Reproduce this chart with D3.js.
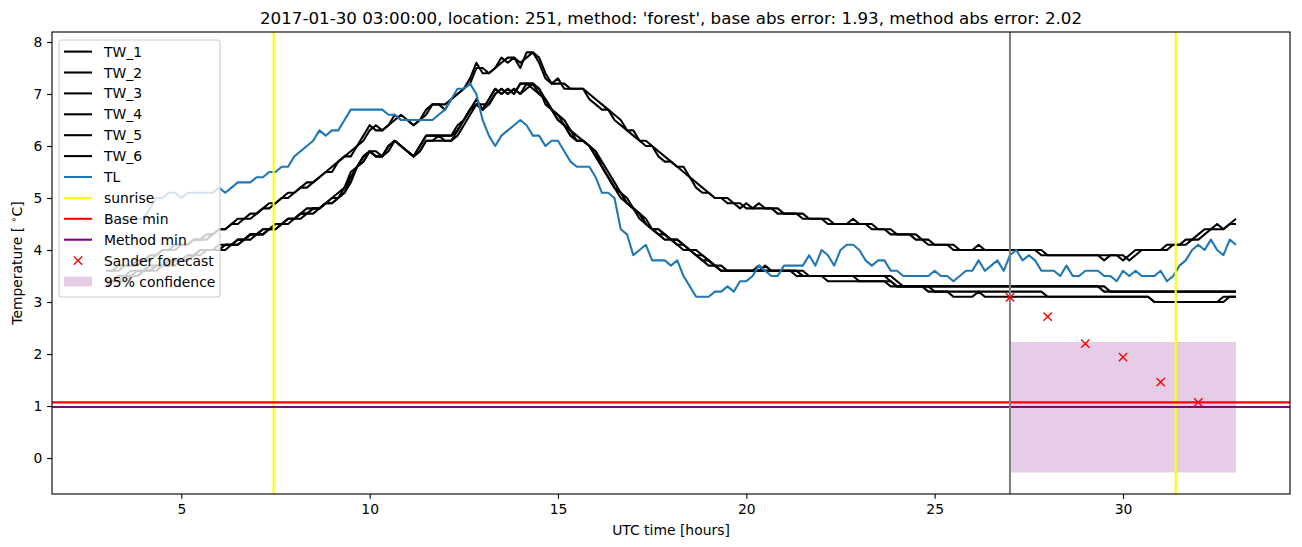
<!DOCTYPE html>
<html>
<head>
<meta charset="utf-8">
<script src="https://cdn.jsdelivr.net/npm/d3@7"></script>
<style>
  body { margin: 0; background: #fff; }
  text { font-family: "DejaVu Sans", sans-serif; }
</style>
</head>
<body>
<div class="TempPlot"></div>
<script>
// samples every 10 minutes, time in hours since 2017-01-30 00:00
const tStart = 3
const tStep = 1 / 6

const TW_1 = [3.6,3.6,3.6,3.7,3.7,3.7,3.8,3.8,3.9,4.0, 4.0,4.0,4.1,4.1,4.2,4.2,4.2,4.3,4.4,4.4,
  4.5,4.6,4.6,4.7,4.7,4.8,4.9,4.9,5.0,5.1, 5.1,5.2,5.3,5.3,5.4,5.5,5.6,5.7,5.8,5.9,
  6.0,6.2,6.4,6.3,6.3,6.4,6.6,6.5,6.5,6.4, 6.5,6.7,6.8,6.8,6.7,6.9,7.0,7.1,7.3,7.6,
  7.4,7.4,7.5,7.7,7.6,7.7,7.5,7.8,7.8,7.6, 7.3,7.2,7.3,7.1,7.1,7.1,7.1,6.9,6.8,6.7,
  6.7,6.5,6.4,6.3,6.2,6.1,6.0,6.0,5.8,5.7, 5.7,5.6,5.5,5.4,5.2,5.1,5.1,5.0,5.0,4.9,
  4.9,4.8,4.9,4.8,4.8,4.8,4.8,4.7,4.7,4.7, 4.7,4.6,4.6,4.6,4.6,4.5,4.5,4.5,4.5,4.6,
  4.5,4.5,4.4,4.4,4.4,4.3,4.3,4.3,4.3,4.2, 4.2,4.1,4.1,4.1,4.1,4.0,4.0,4.0,4.0,4.1,
  4.0,4.0,4.0,4.0,4.0,4.0,4.0,4.0,4.0,3.9, 3.9,3.9,3.9,3.9,3.9,3.9,3.9,3.9,3.9,3.8,
  3.9,3.9,3.8,3.9,4.0,4.0,4.0,4.0,4.0,4.1, 4.1,4.1,4.2,4.2,4.3,4.4,4.4,4.5,4.4,4.5,4.6]
const TW_2 = [3.6,3.6,3.7,3.7,3.7,3.8,3.8,3.9,3.9,4.0, 4.0,4.1,4.1,4.1,4.2,4.2,4.3,4.3,4.4,4.4,
  4.5,4.5,4.6,4.6,4.7,4.8,4.8,4.9,5.0,5.0, 5.1,5.2,5.2,5.3,5.4,5.5,5.5,5.7,5.8,5.8,
  6.0,6.1,6.3,6.4,6.3,6.4,6.5,6.6,6.5,6.4, 6.5,6.6,6.8,6.8,6.8,6.9,7.0,7.1,7.2,7.5,
  7.5,7.4,7.5,7.6,7.7,7.7,7.6,7.7,7.8,7.7, 7.4,7.2,7.2,7.2,7.1,7.1,7.1,7.0,6.9,6.8,
  6.7,6.6,6.5,6.3,6.3,6.1,6.1,6.0,5.9,5.8, 5.7,5.6,5.6,5.4,5.3,5.2,5.1,5.0,5.0,5.0,
  4.9,4.9,4.8,4.8,4.9,4.8,4.8,4.8,4.7,4.7, 4.7,4.7,4.6,4.6,4.6,4.6,4.5,4.5,4.5,4.5,
  4.5,4.5,4.5,4.4,4.4,4.4,4.3,4.3,4.3,4.3, 4.2,4.2,4.1,4.1,4.1,4.1,4.0,4.0,4.0,4.0,
  4.0,4.0,4.0,4.0,4.0,4.0,4.0,4.0,4.0,4.0, 3.9,3.9,3.9,3.9,3.9,3.9,3.9,3.9,3.9,3.9,
  3.9,3.9,3.9,3.8,3.9,4.0,4.0,4.0,4.0,4.0, 4.1,4.1,4.1,4.2,4.2,4.3,4.4,4.4,4.4,4.5,4.5]
const TW_3 = [3.4,3.4,3.5,3.5,3.5,3.6,3.6,3.6,3.7,3.7, 3.7,3.8,3.8,3.8,3.9,4.0,4.0,4.0,4.0,4.1,
  4.1,4.2,4.2,4.3,4.3,4.4,4.4,4.4,4.5,4.6, 4.6,4.7,4.7,4.8,4.8,4.9,5.0,5.0,5.2,5.4,
  5.6,5.8,5.9,5.8,5.8,6.0,6.1,6.0,5.9,5.8, 6.0,6.2,6.2,6.2,6.2,6.2,6.3,6.5,6.7,6.8,
  6.7,6.9,7.1,7.0,7.1,7.0,7.2,7.2,7.1,7.0, 6.9,6.7,6.6,6.4,6.2,6.1,6.1,6.0,5.9,5.6,
  5.4,5.2,5.1,4.9,4.8,4.7,4.5,4.4,4.3,4.3, 4.2,4.1,4.1,4.0,3.9,3.8,3.8,3.7,3.6,3.6,
  3.6,3.6,3.6,3.6,3.7,3.6,3.6,3.6,3.6,3.6, 3.6,3.5,3.5,3.5,3.5,3.5,3.5,3.5,3.5,3.5,
  3.5,3.5,3.5,3.5,3.5,3.4,3.3,3.3,3.3,3.3, 3.3,3.3,3.3,3.3,3.3,3.3,3.3,3.3,3.3,3.3,
  3.3,3.3,3.3,3.3,3.3,3.3,3.3,3.3,3.3,3.3, 3.3,3.3,3.3,3.3,3.3,3.3,3.3,3.3,3.3,3.3,
  3.2,3.2,3.2,3.2,3.2,3.2,3.2,3.2,3.2,3.2, 3.2,3.2,3.2,3.2,3.2,3.2,3.2,3.2,3.2,3.2,3.2]
const TW_4 = [3.4,3.4,3.4,3.5,3.5,3.5,3.6,3.6,3.7,3.7, 3.7,3.7,3.8,3.8,3.9,3.9,4.0,4.0,4.0,4.0,
  4.1,4.1,4.2,4.2,4.3,4.3,4.4,4.4,4.5,4.5, 4.6,4.6,4.7,4.7,4.8,4.9,4.9,5.0,5.1,5.4,
  5.6,5.7,5.9,5.8,5.8,5.9,6.1,6.0,5.9,5.8, 5.9,6.1,6.1,6.1,6.1,6.1,6.2,6.4,6.6,6.8,
  6.8,6.8,7.0,7.1,7.0,7.1,7.0,7.2,7.2,7.1, 6.9,6.7,6.6,6.5,6.3,6.1,6.1,6.0,5.9,5.7,
  5.5,5.3,5.1,5.0,4.8,4.7,4.6,4.4,4.4,4.3, 4.2,4.2,4.1,4.0,4.0,3.9,3.8,3.7,3.7,3.6,
  3.6,3.6,3.6,3.6,3.6,3.6,3.6,3.6,3.6,3.6, 3.6,3.6,3.5,3.5,3.5,3.4,3.4,3.4,3.4,3.4,
  3.4,3.4,3.4,3.4,3.4,3.3,3.3,3.3,3.3,3.3, 3.3,3.2,3.2,3.2,3.2,3.2,3.2,3.2,3.2,3.2,
  3.2,3.2,3.2,3.2,3.2,3.2,3.2,3.2,3.2,3.2, 3.1,3.1,3.1,3.1,3.1,3.1,3.1,3.1,3.1,3.1,
  3.1,3.1,3.1,3.1,3.1,3.1,3.1,3.0,3.0,3.0, 3.0,3.0,3.0,3.0,3.0,3.0,3.0,3.0,3.0,3.1,3.1]
const TW_5 = [3.4,3.4,3.5,3.5,3.6,3.6,3.6,3.7,3.7,3.7, 3.8,3.8,3.8,3.9,3.9,4.0,4.0,4.0,4.1,4.1,
  4.1,4.2,4.2,4.3,4.3,4.4,4.4,4.5,4.5,4.6, 4.6,4.7,4.8,4.8,4.8,4.9,5.0,5.1,5.2,5.5,
  5.6,5.8,5.9,5.9,5.8,6.0,6.1,6.0,5.9,5.8, 6.0,6.2,6.2,6.2,6.2,6.2,6.4,6.5,6.7,6.9,
  6.7,6.9,7.1,7.0,7.1,7.0,7.2,7.2,7.2,7.0, 6.9,6.7,6.5,6.4,6.2,6.1,6.1,6.0,5.8,5.6,
  5.4,5.2,5.0,4.9,4.8,4.6,4.5,4.4,4.3,4.2, 4.2,4.1,4.0,4.0,3.9,3.8,3.7,3.7,3.6,3.6,
  3.6,3.6,3.6,3.6,3.6,3.6,3.6,3.6,3.6,3.6, 3.5,3.5,3.5,3.5,3.5,3.5,3.5,3.5,3.5,3.5,
  3.5,3.5,3.5,3.5,3.5,3.5,3.4,3.3,3.3,3.3, 3.3,3.3,3.3,3.3,3.3,3.3,3.3,3.3,3.3,3.3,
  3.3,3.3,3.3,3.3,3.3,3.3,3.3,3.3,3.3,3.3, 3.3,3.3,3.3,3.3,3.3,3.3,3.3,3.3,3.3,3.2,
  3.2,3.2,3.2,3.2,3.2,3.2,3.2,3.2,3.2,3.2, 3.2,3.2,3.2,3.2,3.2,3.2,3.2,3.2,3.2,3.2,3.2]
const TW_6 = [3.3,3.4,3.4,3.4,3.5,3.5,3.6,3.6,3.6,3.7, 3.7,3.8,3.8,3.9,3.9,4.0,4.0,4.0,4.0,4.1,
  4.1,4.1,4.2,4.3,4.3,4.3,4.4,4.5,4.5,4.6, 4.6,4.7,4.7,4.8,4.8,4.9,4.9,5.0,5.1,5.3,
  5.6,5.7,5.9,5.8,5.8,6.0,6.1,6.0,5.9,5.8, 5.9,6.1,6.1,6.2,6.1,6.1,6.3,6.5,6.7,6.8,
  6.7,6.8,7.0,7.1,7.0,7.1,7.0,7.1,7.2,7.1, 6.8,6.7,6.5,6.4,6.3,6.2,6.1,6.0,5.8,5.6,
  5.4,5.2,5.1,4.9,4.8,4.7,4.5,4.4,4.4,4.3, 4.2,4.2,4.1,4.0,3.9,3.9,3.8,3.7,3.6,3.6,
  3.6,3.6,3.6,3.6,3.6,3.7,3.6,3.6,3.6,3.6, 3.6,3.5,3.5,3.5,3.5,3.5,3.5,3.5,3.5,3.5,
  3.4,3.4,3.4,3.4,3.4,3.4,3.3,3.3,3.3,3.3, 3.3,3.3,3.2,3.2,3.2,3.1,3.1,3.1,3.1,3.2,
  3.1,3.1,3.1,3.1,3.1,3.1,3.1,3.1,3.1,3.1, 3.1,3.1,3.1,3.1,3.1,3.1,3.1,3.1,3.1,3.1,
  3.1,3.1,3.1,3.1,3.1,3.1,3.1,3.0,3.0,3.0, 3.0,3.0,3.0,3.0,3.0,3.0,3.0,3.0,3.1,3.1,3.1]
const TL = [4.6,4.6,4.6,4.6,4.6,4.6,4.6,4.8,5.0,5.0, 5.1,5.1,5.0,5.1,5.1,5.1,5.1,5.1,5.2,5.1,
  5.2,5.3,5.3,5.3,5.4,5.4,5.5,5.5,5.6,5.6, 5.8,5.9,6.0,6.1,6.3,6.2,6.3,6.3,6.5,6.7,
  6.7,6.7,6.7,6.7,6.7,6.6,6.6,6.5,6.5,6.5, 6.5,6.5,6.5,6.6,6.7,6.9,7.1,7.1,7.2,7.0,
  6.5,6.2,6.0,6.2,6.3,6.4,6.5,6.4,6.2,6.2, 6.0,6.1,6.1,5.9,5.7,5.6,5.6,5.6,5.4,5.1,
  5.1,5.0,4.4,4.3,3.9,4.0,4.1,3.8,3.8,3.8, 3.7,3.8,3.5,3.3,3.1,3.1,3.1,3.2,3.2,3.3,
  3.2,3.4,3.4,3.5,3.7,3.6,3.5,3.5,3.7,3.7, 3.7,3.7,3.9,3.7,4.0,3.9,3.7,4.0,4.1,4.1,
  4.0,3.8,3.7,3.8,3.8,3.6,3.6,3.5,3.5,3.5, 3.5,3.5,3.6,3.5,3.5,3.4,3.5,3.6,3.6,3.8,
  3.6,3.7,3.8,3.6,3.9,4.0,3.8,3.9,3.8,3.6, 3.6,3.6,3.5,3.7,3.5,3.5,3.6,3.6,3.6,3.5,
  3.5,3.4,3.6,3.5,3.6,3.5,3.5,3.5,3.6,3.4, 3.5,3.7,3.8,4.0,4.1,4.0,4.2,4.0,3.9,4.2,4.1]

const sunrise = [7.45, 31.4]
const baseMin = 1.07
const methodMin = 0.98
const nowHour = 27
const forecastHours = [27, 28, 29, 30, 31, 32]
const forecastTemps = [3.09, 2.72, 2.2, 1.94, 1.46, 1.07]
const confHours = [27, 33]
const confLow = [-0.28, -0.28]
const confHigh = [2.23, 2.23]
const xTicks = [5, 10, 15, 20, 25, 30]
const yTicks = [0, 1, 2, 3, 4, 5, 6, 7, 8]

const twSeries = [TW_1, TW_2, TW_3, TW_4, TW_5, TW_6]
const twNames = ["TW_1", "TW_2", "TW_3", "TW_4", "TW_5", "TW_6"]

// matplotlib sizes in px at 100 dpi
const lw = 2.08
const spineW = 1.11
const tickLen = 4.86

const width = 1302
const height = 547
const margin = ({top: 32, right: 12, bottom: 53, left: 52})

let x = d3.scaleLinear()
  .domain([1.567, 34.434])
  .range([margin.left, width - margin.right])

let y = d3.scaleLinear()
  .domain([-0.692, 8.192])
  .range([height - margin.bottom, margin.top])

const svg = d3.select(".TempPlot").append("svg")
  .attr("width", width)
  .attr("height", height)
  .attr("viewBox", [0, 0, width, height])

svg.append("defs").append("clipPath").attr("id", "plotclip")
  .append("rect")
    .attr("x", margin.left).attr("y", margin.top)
    .attr("width", width - margin.left - margin.right)
    .attr("height", height - margin.top - margin.bottom)

const plot = svg.append("g").attr("clip-path", "url(#plotclip)")

// confidence band
plot.append("path")
  .datum(confHours.map((h, i) => ({h, lo: confLow[i], hi: confHigh[i]})))
  .attr("fill", "purple")
  .attr("fill-opacity", 0.2)
  .attr("d", d3.area().x(d => x(d.h)).y0(d => y(d.lo)).y1(d => y(d.hi)))

const line = d3.line()
  .x((d, i) => x(tStart + i * tStep))
  .y(d => y(d))

plot.append("g")
    .attr("fill", "none")
    .attr("stroke", "black")
    .attr("stroke-width", lw)
    .attr("stroke-linejoin", "round")
  .selectAll("path")
  .data(twSeries)
  .join("path")
    .attr("d", line)

plot.append("path")
  .datum(TL)
  .attr("fill", "none")
  .attr("stroke", "#1f77b4")
  .attr("stroke-width", lw)
  .attr("stroke-linejoin", "round")
  .attr("d", line)

plot.append("g")
  .selectAll("line")
  .data(sunrise)
  .join("line")
    .attr("x1", d => x(d)).attr("x2", d => x(d))
    .attr("y1", margin.top).attr("y2", height - margin.bottom)
    .attr("stroke", "yellow")
    .attr("stroke-width", lw)

plot.append("line")
  .attr("x1", margin.left).attr("x2", width - margin.right)
  .attr("y1", y(baseMin)).attr("y2", y(baseMin))
  .attr("stroke", "red").attr("stroke-width", lw)

plot.append("line")
  .attr("x1", margin.left).attr("x2", width - margin.right)
  .attr("y1", y(methodMin)).attr("y2", y(methodMin))
  .attr("stroke", "purple").attr("stroke-width", lw)

plot.append("line")
  .attr("x1", x(nowHour)).attr("x2", x(nowHour))
  .attr("y1", margin.top).attr("y2", height - margin.bottom)
  .attr("stroke", "gray").attr("stroke-width", lw)

const cross = (cx, cy, r) => `M${cx - r},${cy - r}L${cx + r},${cy + r}M${cx - r},${cy + r}L${cx + r},${cy - r}`

plot.append("g")
    .attr("stroke", "red")
    .attr("stroke-width", 1.39)
  .selectAll("path")
  .data(forecastHours)
  .join("path")
    .attr("d", (d, i) => cross(x(d), y(forecastTemps[i]), 4.17))

// axes
let xAxis = g => g
  .attr("transform", `translate(0,${height - margin.bottom})`)
  .call(d3.axisBottom(x).tickValues(xTicks).tickSize(tickLen).tickPadding(4.86))
  .call(g => g.select(".domain").remove())
  .call(g => g.selectAll("text").attr("font-size", 13.9).attr("font-family", "DejaVu Sans").attr("fill", "black"))
  .call(g => g.selectAll("line").attr("stroke-width", spineW))

let yAxis = g => g
  .attr("transform", `translate(${margin.left},0)`)
  .call(d3.axisLeft(y).tickValues(yTicks).tickSize(tickLen).tickPadding(4.86))
  .call(g => g.select(".domain").remove())
  .call(g => g.selectAll("text").attr("font-size", 13.9).attr("font-family", "DejaVu Sans").attr("fill", "black"))
  .call(g => g.selectAll("line").attr("stroke-width", spineW))

svg.append("g").call(xAxis)
svg.append("g").call(yAxis)

svg.append("rect")
  .attr("x", margin.left).attr("y", margin.top)
  .attr("width", width - margin.left - margin.right)
  .attr("height", height - margin.top - margin.bottom)
  .attr("fill", "none").attr("stroke", "black").attr("stroke-width", spineW)

const cxPlot = (margin.left + width - margin.right) / 2

svg.append("text")
  .attr("x", cxPlot).attr("y", 24)
  .attr("text-anchor", "middle")
  .attr("font-size", 16.7)
  .text("2017-01-30 03:00:00, location: 251, method: 'forest', base abs error: 1.93, method abs error: 2.02")

svg.append("text")
  .attr("x", cxPlot).attr("y", 535)
  .attr("text-anchor", "middle")
  .attr("font-size", 13.9)
  .text("UTC time [hours]")

const yl = svg.append("text")
  .attr("text-anchor", "middle")
  .attr("font-size", 13.9)
  .attr("transform", `translate(22,${(margin.top + height - margin.bottom) / 2})rotate(-90)`)
yl.append("tspan").text("Temperature [ ")
yl.append("tspan").attr("font-size", 9.7).attr("dy", -5).text("\u2218")
yl.append("tspan").attr("dy", 5).text("C]")

// legend
const legendItems = [
  ...twNames.map(n => ({label: n, kind: "line", color: "black"})),
  {label: "TL", kind: "line", color: "#1f77b4"},
  {label: "sunrise", kind: "line", color: "yellow"},
  {label: "Base min", kind: "line", color: "red"},
  {label: "Method min", kind: "line", color: "purple"},
  {label: "Sander forecast", kind: "cross", color: "red"},
  {label: "95% confidence", kind: "patch", color: "purple"}
]

const legend = svg.append("g")
legend.append("rect")
  .attr("x", 59).attr("y", 40)
  .attr("width", 161).attr("height", 257)
  .attr("rx", 3)
  .attr("fill", "white").attr("fill-opacity", 0.8)
  .attr("stroke", "#cccccc").attr("stroke-width", 1.1)

const rowY = i => 51.6 + i * 20.9
const rows = legend.selectAll("g.row")
  .data(legendItems)
  .join("g")
    .attr("transform", (d, i) => `translate(0,${rowY(i)})`)

rows.filter(d => d.kind === "line").append("line")
  .attr("x1", 64).attr("x2", 92)
  .attr("stroke", d => d.color).attr("stroke-width", lw)
rows.filter(d => d.kind === "cross").append("path")
  .attr("d", cross(78, 0, 4.17))
  .attr("stroke", d => d.color).attr("stroke-width", 1.39)
rows.filter(d => d.kind === "patch").append("rect")
  .attr("x", 64).attr("y", -4.9).attr("width", 28).attr("height", 9.8)
  .attr("fill", d => d.color).attr("fill-opacity", 0.2)
rows.append("text")
  .attr("x", 104).attr("dy", "0.36em")
  .attr("font-size", 13.9)
  .text(d => d.label)
</script>
</body>
</html>
